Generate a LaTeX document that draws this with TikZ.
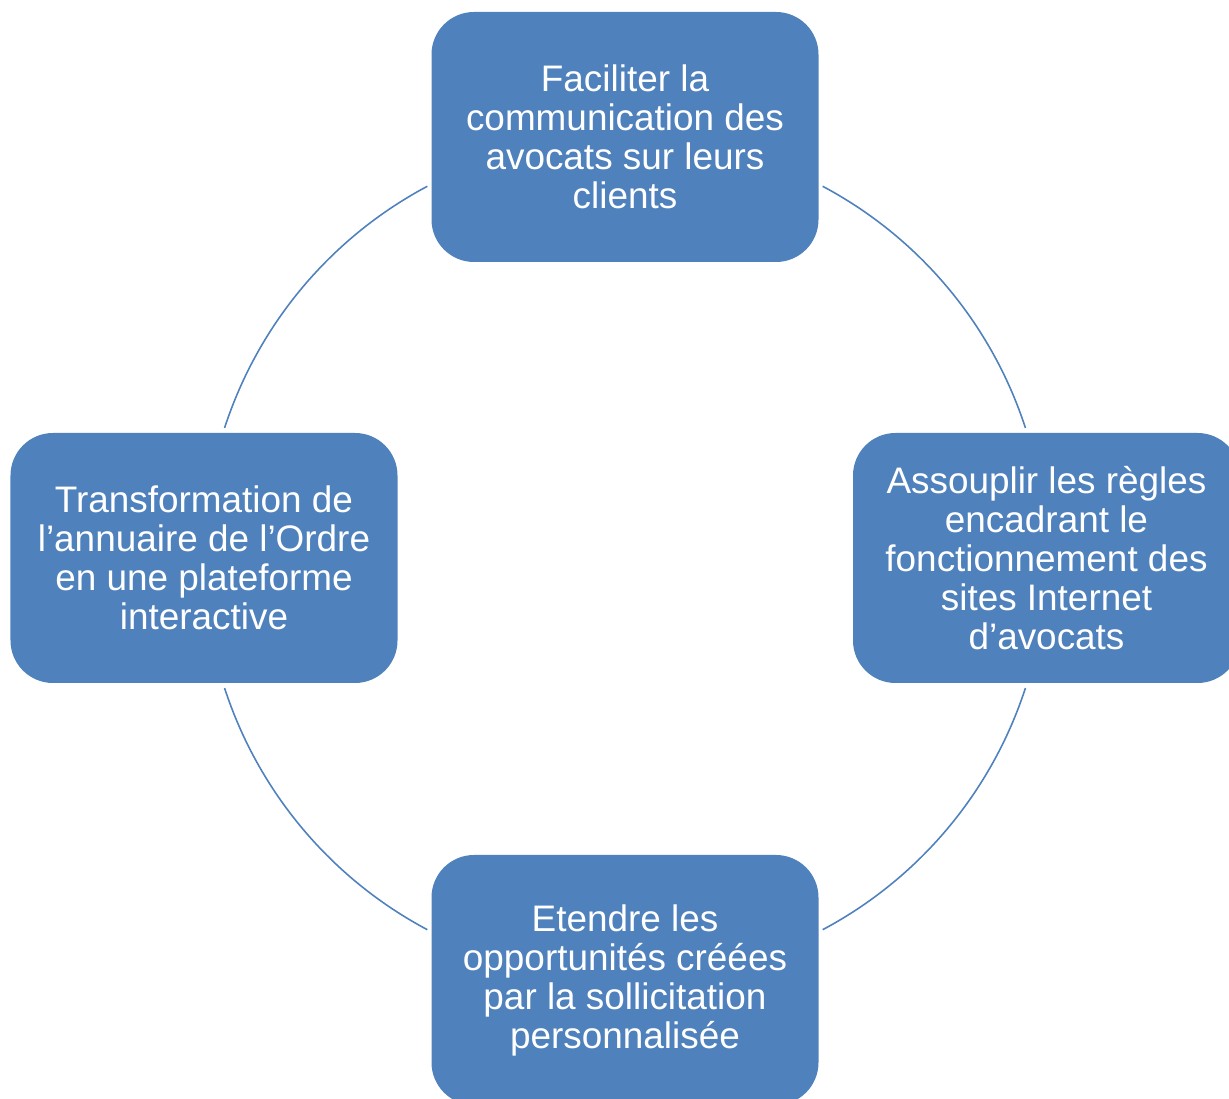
\documentclass[tikz,border=0pt]{standalone}
\usepackage{fontspec}
\setmainfont{Liberation Sans}
\definecolor{boxblue}{RGB}{79,129,189}

\begin{document}
\begin{tikzpicture}[
	stagebox/.style={fill=boxblue, rounded corners=0.85cm, minimum width=7.74cm,
		minimum height=5cm, align=center, text=white,
		font=\fontsize{21}{22.2}\selectfont},
	cycleline/.style={draw=boxblue, line width=0.9pt}]
	\useasboundingbox (0,0) rectangle (24.58,-21.98);
	\coordinate (centre) at (12.5,-11.16);
	\node[stagebox] (faciliter) at (12.5,-2.74) {Faciliter la\\communication des\\avocats sur leurs\\clients};
	\node[stagebox] (assouplir) at (20.93,-11.16) {Assouplir les règles\\encadrant le\\fonctionnement des\\sites Internet\\d’avocats};
	\node[stagebox] (etendre) at (12.5,-19.6) {Etendre les\\opportunités créées\\par la sollicitation\\personnalisée};
	\node[stagebox] (annuaire) at (4.08,-11.16) {Transformation de\\l’annuaire de l’Ordre\\en une plateforme\\interactive};
	\foreach \a in {18,118,198,298}
		\draw[cycleline] (centre) ++(\a:8.42) arc[start angle=\a, delta angle=44, radius=8.42];
\end{tikzpicture}
\end{document}
